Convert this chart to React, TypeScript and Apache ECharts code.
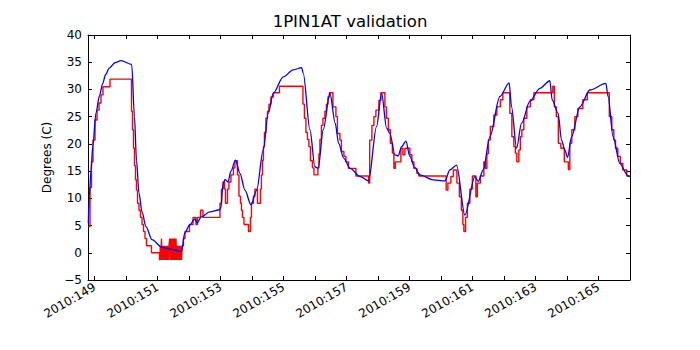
import React, { useEffect, useRef } from "react";
import * as echarts from "echarts";

// Model (blue) — day of year 2010 and temperature (C)
const modelDays = [148.797, 148.829, 148.883, 148.937, 149.041, 149.146, 149.254, 149.343, 149.463, 149.644, 149.835, 150.175, 150.263, 150.327, 150.406, 150.502, 150.629, 150.819, 151.137, 151.454, 151.756, 151.857, 152.016, 152.175, 152.257, 152.384, 152.651, 152.968, 153.010, 153.073, 153.137, 153.232, 153.327, 153.470, 153.613, 153.771, 153.962, 154.143, 154.352, 154.511, 154.670, 154.987, 155.305, 155.571, 155.622, 155.835, 155.994, 156.098, 156.257, 156.470, 156.638, 156.746, 156.905, 157.114, 157.432, 157.698, 157.952, 158.111, 158.270, 158.375, 158.533, 158.638, 158.746, 158.883, 159.010, 159.160, 159.327, 159.749, 160.121, 160.279, 160.492, 160.756, 161.073, 161.178, 161.337, 161.549, 161.867, 162.162, 162.238, 162.397, 162.556, 162.819, 163.137, 163.454, 163.527, 163.717, 163.825, 163.930, 164.016, 164.143, 164.406, 164.724, 165.232, 165.305, 165.463, 165.676, 165.940, 165.994];
const modelTemps = [5.4, 10.3, 15.2, 19.5, 25.7, 28.7, 31.1, 32.7, 33.9, 34.9, 35.3, 34.6, 25.0, 17.0, 11.0, 7.5, 4.8, 2.4, 1.0, 0.6, 0.2, 3.6, 5.1, 6.2, 5.5, 6.6, 7.5, 7.9, 8.3, 12.5, 13.5, 13.0, 15.0, 17.0, 14.6, 11.5, 8.8, 11.5, 18.9, 25.6, 29.3, 32.3, 33.6, 34.0, 33.0, 22.6, 15.8, 15.5, 22.6, 29.3, 23.8, 20.1, 17.4, 15.5, 14.0, 13.2, 23.2, 29.3, 22.9, 21.9, 18.0, 17.8, 19.5, 20.5, 17.7, 15.7, 14.3, 13.4, 13.2, 15.2, 16.1, 6.9, 14.0, 13.1, 15.2, 21.3, 28.7, 31.2, 26.8, 19.2, 23.8, 27.8, 30.2, 31.6, 28.1, 25.6, 20.7, 18.9, 17.5, 21.3, 26.8, 29.9, 31.1, 28.7, 21.3, 16.4, 14.1, 14.0];

// Telemetry (red) — stepped readings
const telemDays = [148.797, 148.851, 148.898, 148.946, 149.010, 149.073, 149.137, 149.200, 149.263, 149.486, 150.168, 150.200, 150.232, 150.263, 150.295, 150.327, 150.359, 150.406, 150.454, 150.502, 150.549, 150.597, 150.644, 150.803, 151.057,
  151.08, 151.10, 151.12, 151.14, 151.16, 151.18, 151.20, 151.22, 151.24, 151.26, 151.28, 151.30, 151.32, 151.34, 151.36, 151.38, 151.40, 151.42, 151.44, 151.46, 151.48, 151.50, 151.52, 151.54, 151.56, 151.58, 151.60, 151.62, 151.64, 151.66, 151.68, 151.70, 151.72, 151.74, 151.76,
  151.775, 151.819, 151.867, 152.010, 152.121, 152.216, 152.263, 152.359, 152.438, 152.978, 153.025, 153.073, 153.121, 153.152, 153.216, 153.263, 153.327, 153.406, 153.454, 153.533, 153.581, 153.629, 153.660, 153.692, 153.740, 153.883, 153.946, 153.978, 154.041, 154.089, 154.168, 154.263, 154.295, 154.327, 154.359, 154.390, 154.438, 154.486, 154.533, 154.597, 154.676, 154.867,
  155.613, 155.660, 155.708, 155.756, 155.803, 155.851, 155.914, 155.962, 156.089, 156.121, 156.152, 156.200, 156.248, 156.311, 156.359, 156.406, 156.454, 156.565, 156.660, 156.708, 156.787, 156.835, 156.914, 156.978, 157.057, 157.295, 157.698, 157.733, 157.803, 157.867, 157.930, 158.025, 158.089, 158.216, 158.263, 158.327, 158.390, 158.454, 158.502, 158.549, 158.724, 158.787, 158.851, 159.010, 159.073, 159.137, 159.232, 159.295,
  160.162, 160.216, 160.311, 160.390, 160.502, 160.581, 160.644, 160.692, 160.724, 160.778, 160.835, 160.914, 160.994, 161.105, 161.152, 161.248, 161.359, 161.406, 161.454, 161.502, 161.565, 161.676, 161.771, 161.883, 161.962, 162.184, 162.248, 162.311, 162.359, 162.406, 162.470, 162.517, 162.565, 162.629, 162.724, 162.835, 162.946,
  163.549, 163.597, 163.660, 163.724, 163.803, 163.914, 164.041, 164.089, 164.152, 164.248, 164.343, 164.502, 164.644, 165.343, 165.422, 165.486, 165.540, 165.613, 165.692, 165.771, 165.898, 165.994];
const telemTemps = [4.8, 12.0, 16.7, 20.7, 24.4, 26.2, 27.5, 29.0, 30.5, 31.9, 26.0, 22.6, 19.2, 16.0, 13.4, 11.5, 9.1, 7.8, 6.5, 5.2, 3.9, 2.6, 1.3, 0.0, -1.3,
  1.3, -1.3, 2.6, -1.3, 1.3, -1.3, 1.3, -1.3, 1.3, -1.3, 1.3, -1.3, 1.3, -1.3, 1.3, 2.6, -1.3, 2.6, -1.3, 2.6, -1.3, 2.6, -1.3, 2.6, -1.3, 2.6, -1.3, 1.3, -1.3, 1.3, -1.3, 1.3, -1.3, 1.3, -1.3,
  1.3, 2.6, 3.9, 5.2, 6.5, 5.2, 6.5, 7.8, 6.5, 9.1, 11.7, 13.0, 11.7, 9.1, 11.7, 13.0, 14.3, 15.6, 16.9, 14.3, 10.4, 9.1, 7.8, 6.5, 5.2, 3.9, 6.5, 9.1, 10.4, 11.7, 9.1, 11.7, 14.3, 17.0, 19.5, 22.1, 24.7, 26.0, 27.3, 28.6, 29.4, 30.6,
  27.3, 24.7, 22.1, 20.8, 19.5, 16.9, 15.6, 14.3, 15.6, 18.2, 20.8, 23.4, 24.7, 26.0, 27.3, 28.6, 29.4, 26.8, 25.0, 21.9, 20.7, 18.6, 17.7, 16.7, 15.5, 14.1, 12.8, 20.7, 23.4, 25.0, 26.2, 28.0, 29.4, 26.8, 24.7, 22.6, 20.1, 18.3, 15.5, 16.7, 19.2, 18.0, 19.2, 18.0, 16.7, 15.5, 14.6, 14.1,
  11.5, 12.8, 14.0, 15.2, 12.8, 10.3, 7.8, 5.2, 3.9, 6.5, 9.1, 11.7, 14.1, 10.3, 12.8, 14.1, 16.7, 15.5, 18.2, 20.7, 23.2, 25.3, 26.8, 28.1, 29.4, 25.6, 21.3, 19.5, 18.3, 16.7, 18.9, 21.3, 22.6, 24.7, 26.8, 28.1, 29.4,
  30.6, 26.8, 25.0, 20.1, 19.2, 16.7, 15.3, 20.1, 22.6, 25.0, 26.5, 28.1, 29.4, 25.0, 22.6, 20.7, 19.2, 17.7, 16.4, 15.2, 14.1, 14.1];

// Axis ticks
const tickDays = [149, 150, 151, 152, 153, 154, 155, 156, 157, 158, 159, 160, 161, 162, 163, 164, 165];
const labelDays = [149, 151, 153, 155, 157, 159, 161, 163, 165];
const yearPrefix = "2010:";

const X_MIN = 148.787;
const X_MAX = 166.0;
const FONT = "DejaVu Sans";

export default function App() {
  const ref = useRef<HTMLDivElement>(null);
  useEffect(() => {
    if (!ref.current) return;
    const chart = echarts.init(ref.current, undefined, { renderer: "svg" });
    const black = { color: "#000", width: 1 };
    const xCommon = {
      type: "value",
      min: X_MIN,
      max: X_MAX,
      axisLine: { show: true, onZero: false, lineStyle: black },
      axisTick: { show: true, inside: true, length: 4, customValues: tickDays, lineStyle: black },
      splitLine: { show: false },
    };
    const yCommon = {
      type: "value",
      min: -5,
      max: 40,
      interval: 5,
      axisLine: { show: true, onZero: false, lineStyle: black },
      axisTick: { show: true, inside: true, length: 4, lineStyle: black },
      splitLine: { show: false },
    };
    chart.setOption({
      animation: false,
      title: {
        text: "1PIN1AT validation",
        left: "center",
        top: 13,
        padding: 0,
        textStyle: { fontFamily: FONT, fontSize: 16.5, fontWeight: "normal", color: "#000" },
      },
      grid: { left: 88, right: 70, top: 35, bottom: 70 },
      xAxis: [
        {
          ...xCommon,
          position: "bottom",
          axisLabel: {
            customValues: labelDays,
            formatter: (v: number) => yearPrefix + Math.round(v),
            rotate: 30,
            margin: 6,
            fontSize: 12,
            fontFamily: FONT,
            color: "#000",
          },
        },
        { ...xCommon, position: "top", axisLabel: { show: false } },
      ],
      yAxis: [
        {
          ...yCommon,
          position: "left",
          name: "Degrees (C)",
          nameLocation: "middle",
          nameRotate: 90,
          nameGap: 30,
          nameTextStyle: { fontFamily: FONT, fontSize: 12, color: "#000" },
          axisLabel: {
            margin: 6,
            fontSize: 12,
            fontFamily: FONT,
            color: "#000",
            formatter: (v: number) => (v < 0 ? "\u2212" + -v : String(v)),
          },
        },
        { ...yCommon, position: "right", axisLabel: { show: false } },
      ],
      series: [
        {
          type: "line",
          name: "telemetry",
          step: "end",
          data: telemDays.map((d, i) => [d, telemTemps[i]]),
          showSymbol: false,
          symbol: "none",
          lineStyle: { color: "#ff0000", width: 1.4 },
          itemStyle: { color: "#ff0000" },
        },
        {
          type: "line",
          name: "model",
          data: modelDays.map((d, i) => [d, modelTemps[i]]),
          showSymbol: false,
          symbol: "none",
          smooth: 0.3,
          smoothMonotone: "x",
          lineStyle: { color: "#0000ff", width: 1.3 },
          itemStyle: { color: "#0000ff" },
        },
      ],
    });
    return () => chart.dispose();
  }, []);
  return (
    <div
      ref={ref}
      style={{ position: "absolute", left: 0, top: 0, width: 700, height: 350, background: "#fff" }}
    />
  );
}
